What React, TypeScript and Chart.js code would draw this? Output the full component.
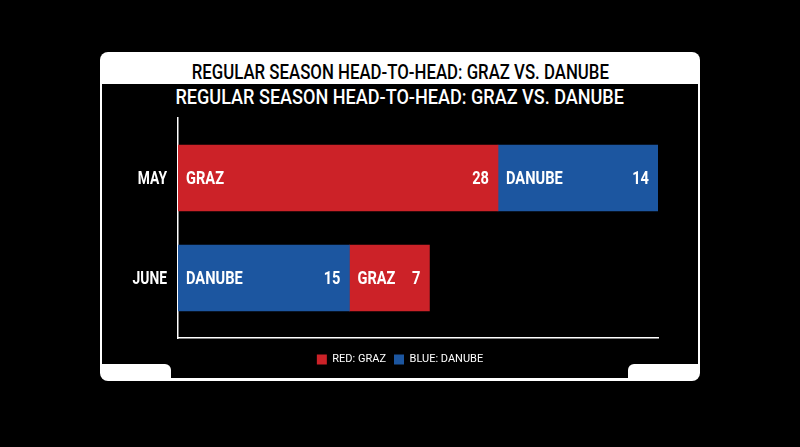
import { Chart, registerables } from "chart.js";
import type { Plugin } from "chart.js";
import { useEffect, useRef } from "react";

Chart.register(...registerables);

// data
const categories = ["MAY", "JUNE"];
const leftTeams = ["GRAZ", "DANUBE"];
const leftValues = [28, 15];
const rightTeams = ["DANUBE", "GRAZ"];
const rightValues = [14, 7];
const legendLabels = ["RED: GRAZ", "BLUE: DANUBE"];

const RED = "#cc2228";
const BLUE = "#1c56a0";
const teamColor = (t: string) => (t === "GRAZ" ? RED : BLUE);
const FONT = "Roboto, 'Liberation Sans', sans-serif";
const SQUEEZE = 0.77; // the original face is a condensed one

function squeezedText(
  ctx: CanvasRenderingContext2D,
  text: string,
  px: number,
  py: number,
  align: CanvasTextAlign,
  size: number
) {
  ctx.save();
  ctx.translate(px, py);
  ctx.scale(SQUEEZE, 1);
  ctx.textAlign = align;
  ctx.textBaseline = "middle";
  ctx.fillStyle = "#ffffff";
  ctx.font = `bold ${size}px ${FONT}`;
  ctx.fillText(text, 0, 1);
  ctx.restore();
}

// category names beside the axis, team names and values inside the bars
const barLabels: Plugin<"bar"> = {
  id: "barLabels",
  afterDatasetsDraw(chart) {
    const ctx = chart.ctx;
    const yScale = chart.scales.y;
    categories.forEach((c, i) => {
      squeezedText(ctx, c, yScale.right - 11, yScale.getPixelForValue(i), "right", 18);
    });
    chart.data.datasets.forEach((_, di) => {
      const teams = di === 0 ? leftTeams : rightTeams;
      const values = di === 0 ? leftValues : rightValues;
      chart.getDatasetMeta(di).data.forEach((bar, i) => {
        const p = bar.getProps(["x", "y", "base"], true) as any;
        const left = Math.min(p.x, p.base);
        const right = Math.max(p.x, p.base);
        squeezedText(ctx, teams[i], left + 8, p.y, "left", 19);
        squeezedText(ctx, String(values[i]), right - 9, p.y, "right", 19);
      });
    });
  },
};

export default function App() {
  const canvasRef = useRef<HTMLCanvasElement | null>(null);

  useEffect(() => {
    if (!canvasRef.current) return;
    const chart = new Chart(canvasRef.current, {
      type: "bar",
      data: {
        datasets: [
          {
            label: "first",
            data: leftValues.map((v, i) => ({ x: v, y: i })),
            backgroundColor: leftTeams.map(teamColor),
            barThickness: 66,
          },
          {
            label: "second",
            data: rightValues.map((v, i) => ({ x: v, y: i })),
            backgroundColor: rightTeams.map(teamColor),
            barThickness: 66,
          },
        ],
      },
      options: {
        indexAxis: "y",
        animation: false,
        responsive: true,
        maintainAspectRatio: false,
        layout: { padding: { left: 0, right: 0, top: 10, bottom: 3 } },
        plugins: {
          tooltip: { enabled: false },
          legend: {
            position: "bottom",
            labels: {
              color: "#ffffff",
              boxWidth: 10,
              boxHeight: 10,
              padding: 8,
              font: { family: FONT, size: 11 },
              generateLabels: () =>
                legendLabels.map((text, i) => ({
                  text,
                  fillStyle: i === 0 ? RED : BLUE,
                  strokeStyle: i === 0 ? RED : BLUE,
                  lineWidth: 0,
                  hidden: false,
                  fontColor: "#ffffff",
                })),
            },
            onClick: () => {},
          },
        },
        scales: {
          x: {
            type: "linear",
            stacked: true,
            min: 0,
            max: 42,
            grid: { display: false },
            ticks: { display: false },
            border: { display: true, color: "#ffffff", width: 1.5 },
          },
          y: {
            type: "linear",
            stacked: true,
            reverse: true,
            offset: false,
            min: -0.6,
            max: 1.6,
            grid: { display: false },
            border: { display: true, color: "#ffffff", width: 1.5 },
            ticks: { display: false },
            afterFit: (axis) => {
              axis.width = 76;
            },
          },
          // empty right-hand axis that keeps the plot clear of the frame
          y2: {
            type: "linear",
            position: "right",
            grid: { display: false },
            border: { display: false },
            ticks: { display: false },
            afterFit: (axis) => {
              axis.width = 40;
            },
          },
        },
      },
      plugins: [barLabels],
    });
    return () => chart.destroy();
  }, []);

  const titleLine = (color: string, size: number, k: number): React.CSSProperties => ({
    display: "inline-block",
    color,
    fontSize: size,
    fontWeight: 500,
    whiteSpace: "nowrap",
    transform: `scaleX(${k})`,
    transformOrigin: "center",
  });

  return (
    <div style={{ position: "fixed", inset: 0, background: "#000", fontFamily: FONT }}>
      <div
        style={{
          position: "absolute",
          left: 100,
          top: 52,
          width: 600,
          height: 329,
          background: "#ffffff",
          borderRadius: 8,
        }}
      >
        <div
          style={{
            position: "absolute",
            left: 0,
            right: 0,
            top: 8,
            textAlign: "center",
            lineHeight: "24px",
          }}
        >
          <span style={titleLine("#000", 20, 0.84)}>REGULAR SEASON HEAD-TO-HEAD: GRAZ VS. DANUBE</span>
        </div>
        <div
          style={{
            position: "absolute",
            left: 2,
            right: 2,
            top: 32,
            bottom: 3,
            background: "#000",
          }}
        >
          <div
            style={{
              position: "absolute",
              left: 0,
              right: 0,
              top: 0,
              textAlign: "center",
              lineHeight: "26px",
            }}
          >
            <span style={titleLine("#fff", 21, 0.86)}>REGULAR SEASON HEAD-TO-HEAD: GRAZ VS. DANUBE</span>
          </div>
          <div
            style={{
              position: "absolute",
              left: 0,
              top: 280,
              width: 69,
              height: 14,
              background: "#fff",
              borderTopRightRadius: 6,
            }}
          />
          <div
            style={{
              position: "absolute",
              right: 0,
              top: 280,
              width: 70,
              height: 14,
              background: "#fff",
              borderTopLeftRadius: 6,
            }}
          />
          <div style={{ position: "absolute", left: 0, top: 24, width: 596, height: 270 }}>
            <canvas ref={canvasRef} />
          </div>
        </div>
      </div>
    </div>
  );
}
